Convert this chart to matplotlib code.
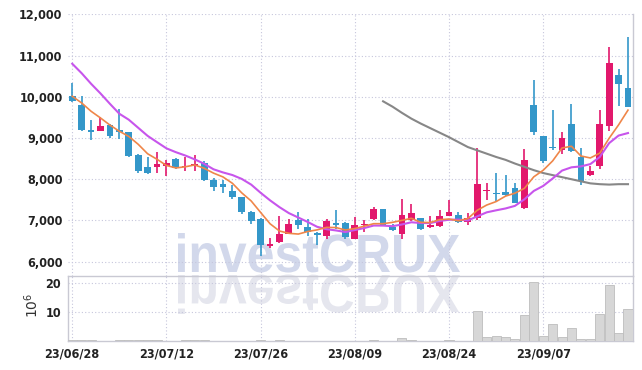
import matplotlib
matplotlib.use("Agg")
import matplotlib.pyplot as plt
import numpy as np
import pandas as pd
from matplotlib.font_manager import FontProperties
from matplotlib.patches import PathPatch
from matplotlib.textpath import TextPath
from matplotlib.transforms import Affine2D
from matplotlib.ticker import FuncFormatter

# trading days (KRX, 8/15 closed)
dates = pd.bdate_range("2023-06-28", "2023-09-20", freq="C", holidays=["2023-08-15"])

opens = [10030, 9810, 9200, 9180, 9320, 9190, 9140, 8590, 8290, 8290,
         8310, 8500, 8290, 8330, 8390, 7990, 7890, 7720, 7560, 7210,
         7040, 6380, 6480, 6680, 7000, 6830, 6700, 6630, 6950, 6950,
         6540, 6880, 7030, 7290, 6830, 6660, 7000, 7050, 6840, 6870,
         7100, 7140, 6960, 7050, 7710, 7670, 7690, 7780, 7310, 9790,
         9040, 8780, 8720, 9330, 8530, 8110, 8310, 9290, 10520, 10220]
highs = [10330, 10010, 9430, 9520, 9330, 9700, 9150, 8620, 8550, 8670,
         8470, 8510, 8550, 8590, 8430, 8030, 7970, 7860, 7570, 7220,
         7050, 6580, 7120, 7040, 7210, 7040, 6710, 7030, 7260, 6960,
         7090, 7000, 7330, 7290, 6920, 7510, 7390, 7060, 7120, 7250,
         7490, 7200, 7170, 8760, 7920, 8150, 8110, 7920, 8730, 10400,
         9050, 9690, 9150, 9830, 8760, 8310, 9690, 11200, 10680, 11460]
lows = [9880, 9180, 8960, 9180, 9000, 8970, 8550, 8150, 8120, 8160,
        8080, 8250, 8190, 8190, 7950, 7720, 7660, 7520, 7150, 6920,
        6130, 6340, 6460, 6680, 6800, 6630, 6410, 6560, 6800, 6540,
        6540, 6730, 7000, 6870, 6740, 6540, 6990, 6780, 6820, 6840,
        7100, 6940, 6890, 7020, 7500, 7460, 7600, 7420, 7280, 9080,
        8390, 8720, 8610, 8670, 7860, 8070, 8240, 9180, 9770, 9750]
closes = [9890, 9200, 9140, 9300, 9040, 9140, 8570, 8190, 8150, 8370,
          8390, 8270, 8330, 8370, 7970, 7800, 7810, 7560, 7200, 6990,
          6410, 6440, 6680, 6920, 6900, 6720, 6640, 6980, 6900, 6600,
          6900, 6920, 7290, 6900, 6760, 7140, 7170, 6800, 6880, 7110,
          7210, 6960, 7070, 7890, 7740, 7630, 7620, 7430, 8470, 9140,
          8430, 8750, 9000, 8680, 7960, 8190, 9330, 10810, 10300, 9750]
# closes before the window, needed for the short moving averages
prior_closes = [11500, 11700, 11650, 11550, 11550, 10010, 10150, 10110, 9900]
# volume, millions of shares
volumes = [0.2, 0.3, 0.2, 0.05, 0.05, 0.2, 0.3, 0.3, 0.2, 0.3,
           0.05, 0.05, 0.2, 0.3, 0.2, 0.05, 0.05, 0.05, 0.05, 0.05,
           0.3, 0.05, 0.3, 0.05, 0.05, 0.05, 0.05, 0.05, 0.05, 0.05,
           0.05, 0.05, 0.3, 0.05, 0.05, 1.2, 0.3, 0.05, 0.05, 0.05,
           0.3, 0.05, 0.1, 10.3, 1.3, 1.7, 1.3, 0.6, 9.0, 20.2,
           1.7, 5.9, 1.3, 4.4, 0.6, 0.6, 9.3, 19.3, 2.6, 10.9]
# long moving average (only from 8/14 on)
ma_long = [np.nan] * 33 + [
    9890, 9760, 9610, 9470, 9350, 9240, 9130, 9020, 8900, 8780,
    8700, 8620, 8540, 8470, 8380, 8300, 8220, 8150, 8100, 8050,
    8000, 7950, 7900, 7880, 7870, 7880, 7880]

price_ticks = [6000, 7000, 8000, 9000, 10000, 11000, 12000]
vol_ticks = [10, 20]

UP = "#e2186c"
DOWN = "#3497c9"
GRID = "#c6c6dc"
SPINE = "#c9c9d3"

label_fp = dict(family=["DejaVu Sans"], weight="bold", stretch="condensed", size=9)

all_close = pd.Series(prior_closes + closes, dtype=float)
ma5 = all_close.rolling(5).mean().iloc[len(prior_closes):].to_numpy()
ma10 = all_close.rolling(10).mean().iloc[len(prior_closes):].to_numpy()

idx = np.arange(len(dates))
o = np.array(opens, dtype=float)
c = np.array(closes, dtype=float)
up = c >= o
colors = np.where(up, UP, DOWN)

W, H = 642, 370
fig = plt.figure(figsize=(W / 100, H / 100), dpi=100)

# background layer in pixel coords for the watermark
bg = fig.add_axes([0, 0, 1, 1], zorder=0)
bg.set_xlim(0, W)
bg.set_ylim(H, 0)
bg.axis("off")

tp = TextPath((0, 0), "investCRUX", size=1,
              prop=FontProperties(family="Liberation Sans", weight="bold"))
ext = tp.get_extents()
sx = 282 / ext.width
sy = 39 / ext.y1
main_tr = Affine2D().translate(-ext.x0, 0).scale(sx, -sy).translate(178, 272)
refl_tr = Affine2D().translate(-ext.x0, 0).scale(sx, sy).translate(178, 275)
bg.add_patch(PathPatch(tp, transform=main_tr + bg.transData,
                       facecolor="#d2d8eb", lw=0))
bg.add_patch(PathPatch(tp, transform=refl_tr + bg.transData,
                       facecolor="#e5e6ee", lw=0))

left = 68 / W
width = 564.7 / W
ax = fig.add_axes([left, (H - 276) / H, width, 261.7 / H], zorder=2)
vax = fig.add_axes([left, 29 / H, width, 65 / H], zorder=2, sharex=ax)
for a in (ax, vax):
    a.set_facecolor("none")
    a.grid(True, color=GRID, linestyle=(0, (1, 2)), linewidth=0.8)
    a.set_axisbelow(True)
    for s in a.spines.values():
        s.set_color(SPINE)
        s.set_linewidth(1.0)
    a.tick_params(length=0, colors="#222222")

ax.spines["top"].set_visible(False)
ax.spines["left"].set_visible(False)
vax.spines["top"].set_visible(False)

# candles
ax.vlines(idx, lows, highs, colors=colors, linewidth=1.2, zorder=3)
body = np.abs(c - o)
body = np.maximum(body, 25)
ax.bar(idx, body, bottom=np.minimum(o, c), width=0.72, color=colors,
       linewidth=0, zorder=4)

ax.plot(idx, ma_long, color="#878787", lw=1.5, zorder=5)
ax.plot(idx, ma10, color="#c755ec", lw=1.5, zorder=5)
ax.plot(idx, ma5, color="#ef8649", lw=1.2, zorder=6)

ax.set_xlim(-0.45, 59.5)
ax.set_ylim(5653, 12000)
ax.set_yticks(price_ticks)
ax.yaxis.set_major_formatter(FuncFormatter(lambda v, p: f"{int(v):,}"))
ax.tick_params(axis="y", pad=4)
ax.tick_params(axis="x", labelbottom=False)
for t in ax.get_yticklabels():
    t.set_fontproperties(FontProperties(**label_fp))

# volume
vax.bar(idx, volumes, width=0.96, color="#d7d7d7", edgecolor="#bdbdbd",
        linewidth=0.6, zorder=3)
vax.set_ylim(0, 22.4)
vax.set_yticks(vol_ticks)
vax.tick_params(axis="y", pad=5)
tick_pos = idx[::10]
vax.set_xticks(tick_pos)
vax.set_xticklabels([dates[i].strftime("%y/%m/%d") for i in tick_pos])
vax.tick_params(axis="x", pad=5)
for t in vax.get_yticklabels() + vax.get_xticklabels():
    t.set_fontproperties(FontProperties(**label_fp))

fig.text(32 / W, 1 - 305 / H, r"$10^{6}$", rotation=90, ha="center",
         va="center", fontsize=10, color="#333333")

fig.savefig("out.png", dpi=100)
